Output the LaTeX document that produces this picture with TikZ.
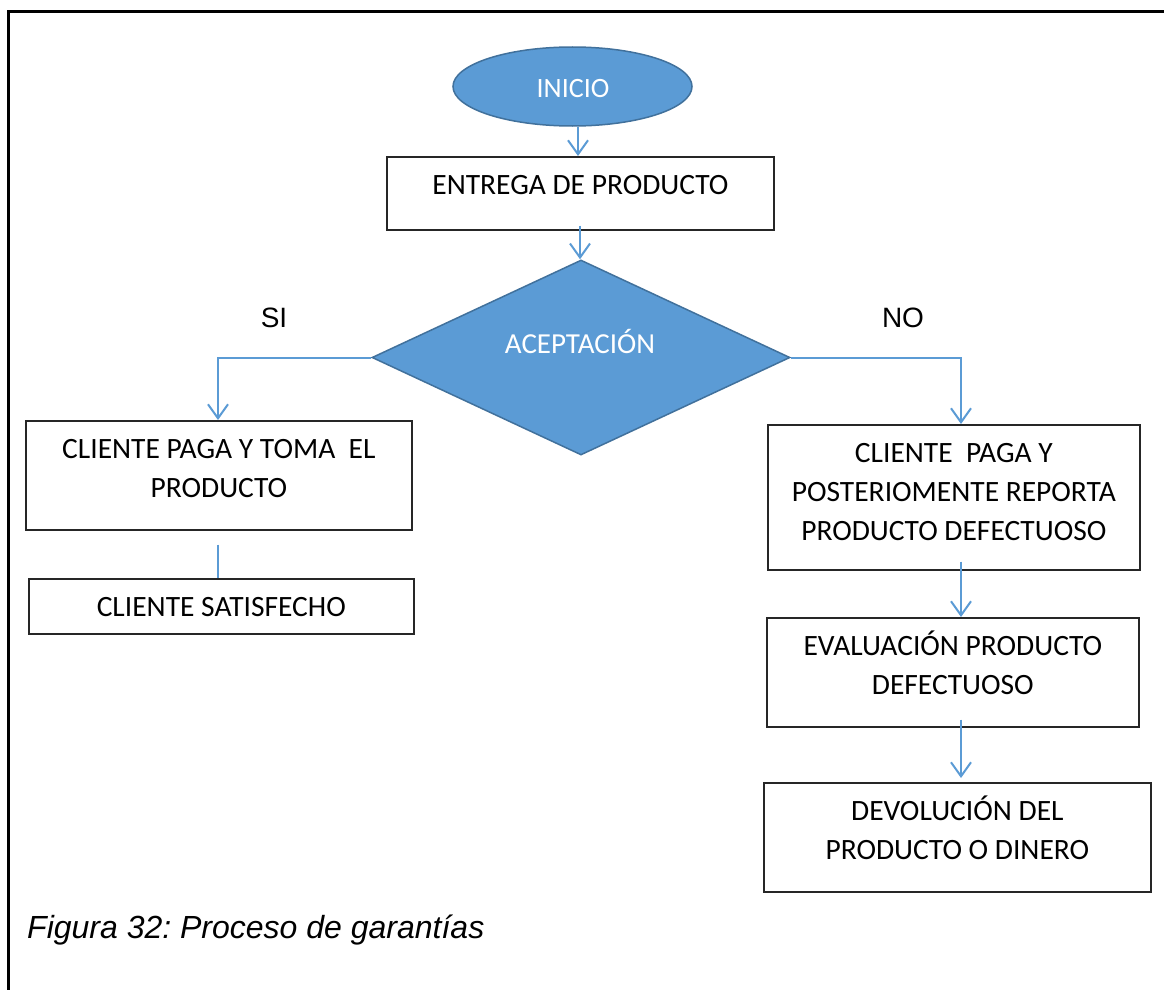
\documentclass[tikz,border=0pt]{standalone}
\usepackage{fontspec}
\setmainfont{Carlito}
\newfontfamily\arialf{Liberation Sans}
\usetikzlibrary{shapes.geometric,arrows.meta,calc}
\definecolor{accblue}{HTML}{5B9BD5}
\definecolor{accdark}{HTML}{41719C}
\frenchspacing
\begin{document}
\begin{tikzpicture}[x=1pt,y=-1pt,
  boxnode/.style={draw=black!85, line width=1.7pt, rectangle, inner sep=0pt, anchor=north west},
  boxtext/.style={anchor=north, inner sep=0pt, align=center, font=\fontsize{29.5}{39}\selectfont, yshift=-11.2pt},
  shapefill/.style={draw=accdark, fill=accblue, line width=1.5pt, inner sep=0pt},
  whitetext/.style={text=white, inner sep=0pt},
  arialtext/.style={font=\arialf\fontsize{28}{34}\selectfont, inner sep=0pt, anchor=base},
  conn/.style={draw=accblue, line width=2pt},
  arr/.style={conn, -{Straight Barb[length=14pt,width=20pt]}}]
\useasboundingbox (0,0) rectangle (1164,990);
\fill[white] (0,0) rectangle (1164,990);
% frame
\draw[line width=3pt] (8.5,990) -- (8.5,11.5) -- (1164,11.5);

% shapes
\node[ellipse, shapefill, minimum width=239pt, minimum height=79pt] (inicio) at (572.5,86.5) {};
\node[whitetext, anchor=base, font=\fontsize{28}{34}\selectfont] (inicioT) at (573,97) {INICIO};

\node[boxnode, minimum width=387pt, minimum height=73pt] (entrega) at (386,156) {};
\node[boxtext] (entregaT) at (entrega.north) {\strut ENTREGA DE PRODUCTO};

\node[diamond, shapefill, minimum width=418pt, minimum height=195pt] (dia) at (581,357.5) {};
\node[whitetext, anchor=base, font=\fontsize{29}{34}\selectfont] (diaT) at (580,353) {ACEPTACIÓN};

\node[arialtext] (si) at (274,327) {SI};
\node[arialtext] (no) at (903,327) {NO};

\node[boxnode, minimum width=386pt, minimum height=109pt] (pagaL) at (25,420) {};
\node[boxtext] (pagaLT) at (pagaL.north) {\strut CLIENTE PAGA Y TOMA\ \ EL\\\strut PRODUCTO};

\node[boxnode, minimum width=385pt, minimum height=55pt] (satisf) at (28,578) {};
\node[boxtext] (satisfT) at (satisf.north) {\strut CLIENTE SATISFECHO};

\node[boxnode, minimum width=372pt, minimum height=145pt] (pagaR) at (767,424) {};
\node[boxtext] (pagaRT) at (pagaR.north) {\strut CLIENTE\ \ PAGA Y\\\strut POSTERIOMENTE REPORTA\\\strut PRODUCTO DEFECTUOSO};

\node[boxnode, minimum width=372pt, minimum height=109pt] (evalua) at (766,617) {};
\node[boxtext] (evaluaT) at (evalua.north) {\strut EVALUACIÓN PRODUCTO\\\strut DEFECTUOSO};

\node[boxnode, minimum width=387pt, minimum height=109pt] (devol) at (763,782) {};
\node[boxtext] (devolT) at (devol.north) {\strut DEVOLUCIÓN DEL\\\strut PRODUCTO O DINERO};

\node[anchor=base west, inner sep=0pt, font=\arialf\itshape\fontsize{32}{38}\selectfont] (caption) at (27,938) {Figura 32: Proceso de garantías};

% connectors
\coordinate (colT) at (578,0);
\coordinate (colT2) at (580,0);
\coordinate (colL) at (218,0);
\coordinate (colR) at (961,0);
\draw[arr] (inicio.south -| colT) -- (entrega.north -| colT);
\draw[arr] ($(entrega.south -| colT2)+(0,-5)$) -- (dia.north -| colT2);
\draw[arr] (dia.west) -| (pagaL.north -| colL);
\draw[conn] ($(pagaL.south -| colL)+(0,14)$) -- (satisf.north -| colL);
\draw[arr] (dia.east) -| (pagaR.north -| colR);
\draw[arr] ($(pagaR.south -| colR)+(0,-9)$) -- (evalua.north -| colR);
\draw[arr] ($(evalua.south -| colR)+(0,-8)$) -- ($(devol.north -| colR)+(0,-4)$);
\end{tikzpicture}
\end{document}
